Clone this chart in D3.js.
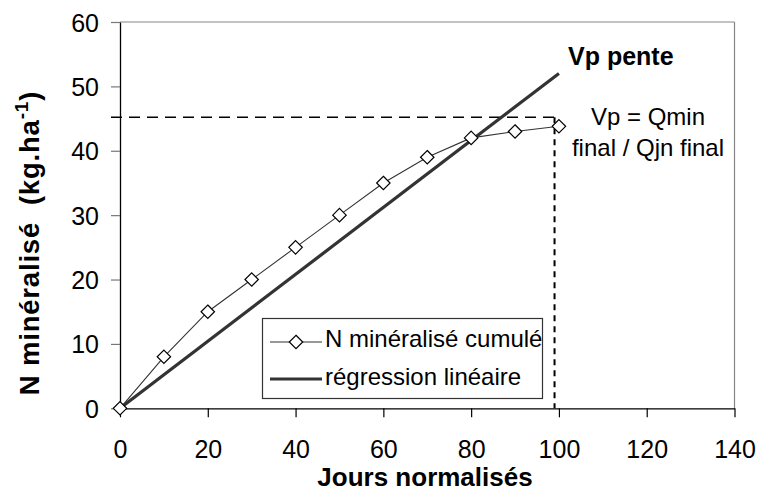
<!DOCTYPE html>
<html>
<head>
<meta charset="utf-8">
<script src="https://cdn.jsdelivr.net/npm/d3@7"></script>
<style>
  html, body { margin: 0; padding: 0; background: #fff; }
  svg { display: block; }
  text { font-family: "Liberation Sans", Arial, sans-serif; fill: #000; }
</style>
</head>
<body>
<svg id="chart" width="757" height="491"></svg>
<script>
// ---- data ----
const days = [0, 10, 20, 30, 40, 50, 60, 70, 80, 90, 100];
const nMineralise = [0, 8, 15, 20, 25, 30, 35, 39, 42, 43, 43.8];
const regressionDays = [0, 100];
const regressionValues = [0, 52];
const refDay = 99;
const refValue = 45.2;
const xTicks = [0, 20, 40, 60, 80, 100, 120, 140];
const yTicks = [0, 10, 20, 30, 40, 50, 60];
const seriesLabels = ["N minéralisé cumulé", "régression linéaire"];

// ---- layout ----
const svg = d3.select("#chart");
const x = d3.scaleLinear().domain([0, 140]).range([120, 734.5]);
const y = d3.scaleLinear().domain([0, 60]).range([408.3, 22]);

// plot frame (top & right, grey)
svg.append("line").attr("x1", x(0)).attr("x2", x(140)).attr("y1", y(60)).attr("y2", y(60))
  .attr("stroke", "#868686").attr("stroke-width", 1.2);
svg.append("line").attr("x1", x(140)).attr("x2", x(140)).attr("y1", y(60)).attr("y2", y(0))
  .attr("stroke", "#868686").attr("stroke-width", 1.2);

// y axis
const gy = svg.append("g").attr("transform", `translate(${x(0)},0)`)
  .call(d3.axisLeft(y).tickValues(yTicks).tickSize(9).tickSizeOuter(0).tickPadding(12));
gy.select(".domain").attr("stroke", "#000").attr("stroke-width", 1.3);
gy.selectAll(".tick line").attr("stroke", "#777").attr("stroke-width", 1.2);
gy.selectAll(".tick text").attr("font-size", 25).attr("font-family", "Liberation Sans, Arial, sans-serif")
  .attr("fill", "#000").attr("x", -21).attr("dy", "0.36em");

// x axis
const gx = svg.append("g").attr("transform", `translate(0,${y(0)})`)
  .call(d3.axisBottom(x).tickValues(xTicks).tickSize(9).tickSizeOuter(0));
gx.select(".domain").attr("stroke", "#000").attr("stroke-width", 1.3);
gx.selectAll(".tick line").attr("stroke", "#000").attr("stroke-width", 1.2);
gx.selectAll(".tick text").attr("font-size", 25).attr("font-family", "Liberation Sans, Arial, sans-serif")
  .attr("fill", "#000").attr("y", 50).attr("dy", 0);

// reference dashed lines
svg.append("line").attr("x1", x(0) - 9).attr("x2", x(refDay)).attr("y1", y(refValue)).attr("y2", y(refValue))
  .attr("stroke", "#000").attr("stroke-width", 1.6).attr("stroke-dasharray", "11,7");
svg.append("line").attr("x1", x(refDay)).attr("x2", x(refDay)).attr("y1", y(refValue)).attr("y2", y(0))
  .attr("stroke", "#000").attr("stroke-width", 2).attr("stroke-dasharray", "6,5");

// regression line
const regData = regressionDays.map((d, i) => [d, regressionValues[i]]);
svg.append("path").datum(regData)
  .attr("d", d3.line().x(d => x(d[0])).y(d => y(d[1])))
  .attr("fill", "none").attr("stroke", "#333").attr("stroke-width", 3.2);

// cumulative series
const serData = days.map((d, i) => [d, nMineralise[i]]);
svg.append("path").datum(serData)
  .attr("d", d3.line().x(d => x(d[0])).y(d => y(d[1])))
  .attr("fill", "none").attr("stroke", "#333").attr("stroke-width", 1.1);

const diamond = d3.symbol().type(d3.symbolDiamond2).size(115);
svg.selectAll("path.pt").data(serData).join("path").attr("class", "pt")
  .attr("d", diamond)
  .attr("transform", d => `translate(${x(d[0])},${y(d[1])})`)
  .attr("fill", "#fff").attr("stroke", "#000").attr("stroke-width", 1.2);

// annotations
svg.append("text").attr("x", 568).attr("y", 65).attr("font-size", 25).attr("font-weight", "bold")
  .text("Vp pente");
svg.append("text").attr("x", 648).attr("y", 125).attr("font-size", 24).attr("text-anchor", "middle")
  .text("Vp = Qmin");
svg.append("text").attr("x", 648).attr("y", 156).attr("font-size", 24).attr("text-anchor", "middle")
  .text("final / Qjn final");

// legend
const lg = svg.append("g");
lg.append("rect").attr("x", 262.5).attr("y", 318.5).attr("width", 280).attr("height", 80)
  .attr("fill", "#fff").attr("stroke", "#333").attr("stroke-width", 1.2);
lg.append("line").attr("x1", 270).attr("x2", 322).attr("y1", 342).attr("y2", 342)
  .attr("stroke", "#333").attr("stroke-width", 1.1);
lg.append("path").attr("d", diamond).attr("transform", "translate(296,342)")
  .attr("fill", "#fff").attr("stroke", "#000").attr("stroke-width", 1.2);
lg.append("line").attr("x1", 270).attr("x2", 322).attr("y1", 379).attr("y2", 379)
  .attr("stroke", "#333").attr("stroke-width", 3.2);
lg.append("text").attr("x", 325).attr("y", 347).attr("font-size", 24).text(seriesLabels[0]);
lg.append("text").attr("x", 325).attr("y", 385).attr("font-size", 24).text(seriesLabels[1]);

// axis titles
svg.append("text").attr("x", 425).attr("y", 486).attr("font-size", 26).attr("font-weight", "bold")
  .attr("text-anchor", "middle").text("Jours normalisés");
const yt = svg.append("text").attr("transform", "translate(39,243) rotate(-90)")
  .attr("font-size", 27.5).attr("font-weight", "bold").attr("text-anchor", "middle")
  .attr("letter-spacing", 0.8);
yt.append("tspan").text("N minéralisé\u00a0\u00a0(kg.ha");
yt.append("tspan").attr("dy", -11).attr("font-size", 19).text("-1");
yt.append("tspan").attr("dy", 11).text(")");
</script>
</body>
</html>
